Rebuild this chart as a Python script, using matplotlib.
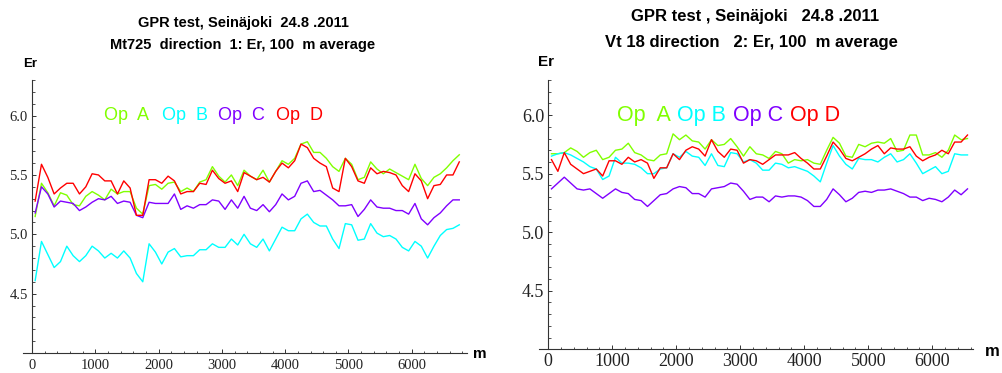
import matplotlib
matplotlib.use("Agg")
import matplotlib.pyplot as plt
from matplotlib.ticker import MultipleLocator
import numpy as np

# =========================================================
# DATA (100 m averages)
# =========================================================

left_m = np.arange(50, 6800, 100)     # 68 points
right_m = np.arange(50, 6600, 100)    # 66 points

left_A = [5.15, 5.43, 5.35, 5.24, 5.35, 5.33, 5.25, 5.24, 5.32, 5.36, 5.33, 5.29,
          5.38, 5.34, 5.36, 5.36, 5.22, 5.17, 5.41, 5.42, 5.38, 5.43, 5.44,
          5.36, 5.39, 5.36, 5.44, 5.46, 5.57, 5.49, 5.44, 5.50, 5.41, 5.54, 5.49,
          5.46, 5.54, 5.44, 5.53, 5.62, 5.59, 5.64, 5.76, 5.78, 5.69,
          5.69, 5.64, 5.57, 5.53, 5.64, 5.59, 5.46, 5.48, 5.61, 5.55, 5.51, 5.55,
          5.52, 5.49, 5.46, 5.59, 5.47, 5.41, 5.48, 5.51, 5.56, 5.62, 5.67]
left_B = [4.61, 4.94, 4.83, 4.72, 4.77, 4.90, 4.82, 4.77, 4.82, 4.90, 4.86, 4.80,
          4.84, 4.80, 4.86, 4.80, 4.67, 4.60, 4.92, 4.85, 4.75, 4.85, 4.88,
          4.81, 4.82, 4.82, 4.87, 4.87, 4.92, 4.89, 4.89, 4.96, 4.91, 5.00, 4.92,
          4.89, 4.96, 4.86, 4.96, 5.06, 5.03, 5.03, 5.13, 5.17, 5.10,
          5.07, 5.07, 4.96, 4.88, 5.09, 5.08, 4.95, 4.96, 5.09, 5.01, 4.98, 4.99,
          4.96, 4.89, 4.86, 4.94, 4.90, 4.80, 4.90, 4.99, 5.04, 5.05, 5.08]
left_C = [5.18, 5.40, 5.34, 5.23, 5.28, 5.27, 5.26, 5.20, 5.23, 5.27, 5.30, 5.29,
          5.32, 5.26, 5.28, 5.27, 5.16, 5.14, 5.27, 5.26, 5.26, 5.26, 5.34,
          5.21, 5.24, 5.22, 5.25, 5.25, 5.29, 5.28, 5.21, 5.29, 5.22, 5.32, 5.22,
          5.20, 5.25, 5.19, 5.25, 5.34, 5.29, 5.32, 5.43, 5.45, 5.36,
          5.37, 5.33, 5.29, 5.24, 5.24, 5.25, 5.15, 5.21, 5.29, 5.23, 5.22, 5.22,
          5.20, 5.20, 5.17, 5.26, 5.13, 5.08, 5.14, 5.18, 5.24, 5.29, 5.29]
left_D = [5.28, 5.59, 5.48, 5.34, 5.39, 5.43, 5.43, 5.34, 5.40, 5.51, 5.50, 5.45,
          5.45, 5.34, 5.45, 5.39, 5.16, 5.16, 5.46, 5.46, 5.43, 5.49, 5.45,
          5.34, 5.36, 5.36, 5.43, 5.42, 5.54, 5.47, 5.43, 5.45, 5.36, 5.52, 5.49,
          5.46, 5.48, 5.44, 5.53, 5.60, 5.56, 5.62, 5.76, 5.73, 5.64,
          5.60, 5.57, 5.39, 5.36, 5.64, 5.57, 5.45, 5.43, 5.56, 5.51, 5.53, 5.52,
          5.50, 5.41, 5.36, 5.51, 5.45, 5.30, 5.41, 5.42, 5.50, 5.50, 5.61]

right_A = [5.67, 5.67, 5.68, 5.72, 5.69, 5.64, 5.68, 5.70, 5.62, 5.64, 5.70, 5.71,
           5.76, 5.68, 5.66, 5.62, 5.61, 5.66, 5.67, 5.84, 5.79,
           5.83, 5.78, 5.77, 5.71, 5.79, 5.74, 5.75, 5.80, 5.73, 5.65, 5.73, 5.67,
           5.66, 5.63, 5.69, 5.67, 5.59, 5.62, 5.61, 5.62, 5.59, 5.58,
           5.70, 5.81, 5.76, 5.65, 5.64, 5.75, 5.73, 5.76, 5.77, 5.76, 5.80, 5.69,
           5.70, 5.83, 5.83, 5.66, 5.66, 5.68, 5.64, 5.70, 5.83, 5.79, 5.80]
right_B = [5.65, 5.67, 5.68, 5.66, 5.63, 5.60, 5.56, 5.54, 5.45, 5.48, 5.64, 5.59,
           5.59, 5.58, 5.55, 5.50, 5.50, 5.54, 5.55, 5.67, 5.64,
           5.69, 5.65, 5.64, 5.57, 5.67, 5.57, 5.56, 5.68, 5.67, 5.60, 5.62, 5.59,
           5.53, 5.53, 5.59, 5.58, 5.55, 5.56, 5.54, 5.52, 5.48, 5.43,
           5.59, 5.74, 5.65, 5.58, 5.54, 5.63, 5.62, 5.62, 5.60, 5.64, 5.67, 5.60,
           5.62, 5.67, 5.59, 5.50, 5.53, 5.56, 5.50, 5.52, 5.67, 5.66, 5.66]
right_C = [5.37, 5.42, 5.47, 5.42, 5.37, 5.36, 5.37, 5.33, 5.29, 5.33, 5.37, 5.34,
           5.33, 5.28, 5.27, 5.22, 5.27, 5.32, 5.33, 5.37, 5.39,
           5.38, 5.33, 5.33, 5.30, 5.37, 5.38, 5.39, 5.42, 5.41, 5.35, 5.28, 5.30,
           5.30, 5.26, 5.31, 5.30, 5.31, 5.31, 5.30, 5.27, 5.22, 5.22,
           5.28, 5.37, 5.32, 5.26, 5.29, 5.34, 5.35, 5.34, 5.36, 5.36, 5.37, 5.35,
           5.33, 5.30, 5.30, 5.27, 5.29, 5.28, 5.26, 5.30, 5.36, 5.32, 5.37]
right_D = [5.62, 5.52, 5.68, 5.58, 5.54, 5.50, 5.52, 5.54, 5.48, 5.61, 5.61, 5.58,
           5.64, 5.60, 5.62, 5.59, 5.46, 5.55, 5.55, 5.67, 5.62,
           5.70, 5.73, 5.71, 5.65, 5.79, 5.69, 5.64, 5.71, 5.70, 5.59, 5.62, 5.61,
           5.58, 5.62, 5.66, 5.66, 5.66, 5.68, 5.63, 5.59, 5.54, 5.54,
           5.65, 5.77, 5.71, 5.63, 5.61, 5.64, 5.67, 5.71, 5.74, 5.67, 5.72, 5.71,
           5.71, 5.73, 5.65, 5.61, 5.64, 5.66, 5.70, 5.67, 5.77, 5.77, 5.83]

op_labels = ["Op  A", "Op  B", "Op  C", "Op  D"]
op_colors = ["#80ff00", "#00ffff", "#8000ff", "#ff0000"]   # Hue .25/.5/.75/0

FIG_W, FIG_H = 1003, 373


def fx(px):
    return px / FIG_W


def fy(py):
    return 1 - py / FIG_H


# =========================================================
# PANEL SETUP
# =========================================================

def style_axes(ax, xlim, ylim, labelsize, xpad):
    ax.set_xlim(*xlim)
    ax.set_ylim(*ylim)
    ax.spines["top"].set_visible(False)
    ax.spines["right"].set_visible(False)
    ax.spines["left"].set_position(("data", 0))
    for s in ("left", "bottom"):
        ax.spines[s].set_color("#333333")
        ax.spines[s].set_linewidth(0.8)

    ax.xaxis.set_major_locator(MultipleLocator(1000))
    ax.xaxis.set_minor_locator(MultipleLocator(200))
    ax.set_yticks([4.5, 5.0, 5.5, 6.0])
    ax.yaxis.set_minor_locator(MultipleLocator(0.1))
    ax.set_yticklabels(["4.5", "5.0", "5.5", "6.0"])
    ax.tick_params(which="both", direction="in", color="#333333",
                   labelsize=labelsize, labelcolor="#222222")
    ax.tick_params(which="major", length=3.2, width=0.7)
    ax.tick_params(which="minor", length=1.8, width=0.6)
    ax.tick_params(axis="x", pad=xpad)
    ax.tick_params(axis="y", pad=3)
    for lab in ax.get_xticklabels() + ax.get_yticklabels():
        lab.set_family("Liberation Serif")
    ax.patch.set_alpha(0)


fig = plt.figure(figsize=(FIG_W / 100, FIG_H / 100), dpi=100)

# left panel
ax1 = fig.add_axes([fx(23), fy(353), fx(467 - 23), (353 - 80) / FIG_H])
for vals, c in zip([left_A, left_B, left_C, left_D], op_colors):
    ax1.plot(left_m, vals, color=c, lw=1.0)
style_axes(ax1, (-142, 6872), (4.0, 6.3), 10.5, 4.5)

# right panel
ax2 = fig.add_axes([fx(539), fy(349.3), fx(973 - 539), (349.3 - 80) / FIG_H])
for vals, c in zip([right_A, right_B, right_C, right_D], op_colors):
    ax2.plot(right_m, vals, color=c, lw=1.0)
style_axes(ax2, (-145, 6636), (4.0, 6.3), 13, 2.5)

# =========================================================
# TITLES, AXIS LABELS, LEGEND TEXT
# =========================================================

sans = "Liberation Sans"

fig.text(fx(243), fy(23), "GPR test, Seinäjoki  24.8 .2011", ha="center", va="center",
         family=sans, weight="bold", fontsize=10.5)
fig.text(fx(243), fy(45), "Mt725  direction  1: Er, 100  m average", ha="center",
         va="center", family=sans, weight="bold", fontsize=10.5)
fig.text(fx(755), fy(17), "GPR test , Seinäjoki   24.8 .2011", ha="center", va="center",
         family=sans, weight="bold", fontsize=12)
fig.text(fx(751), fy(42), "Vt 18 direction   2: Er, 100  m average", ha="center",
         va="center", family=sans, weight="bold", fontsize=12)

fig.text(fx(23), fy(64), "Er", ha="left", va="center", family=sans, weight="bold",
         fontsize=9.5)
fig.text(fx(538), fy(62), "Er", ha="left", va="center", family=sans, weight="bold",
         fontsize=11)
fig.text(fx(473), fy(354), "m", ha="left", va="center", family=sans, weight="bold",
         fontsize=11)
fig.text(fx(985), fy(351), "m", ha="left", va="center", family=sans, weight="bold",
         fontsize=12)

left_op_x = [104, 162, 218, 276]
right_op_x = [617, 677, 733, 790]
right_op_labels = ["Op  A", "Op B", "Op C", "Op D"]
for x, lab, c in zip(left_op_x, op_labels, op_colors):
    fig.text(fx(x), fy(116), lab, ha="left", va="center", family=sans,
             fontsize=13, color=c)
for x, lab, c in zip(right_op_x, right_op_labels, op_colors):
    fig.text(fx(x), fy(115), lab, ha="left", va="center", family=sans,
             fontsize=15.5, color=c)

fig.savefig("out.png", dpi=100)
